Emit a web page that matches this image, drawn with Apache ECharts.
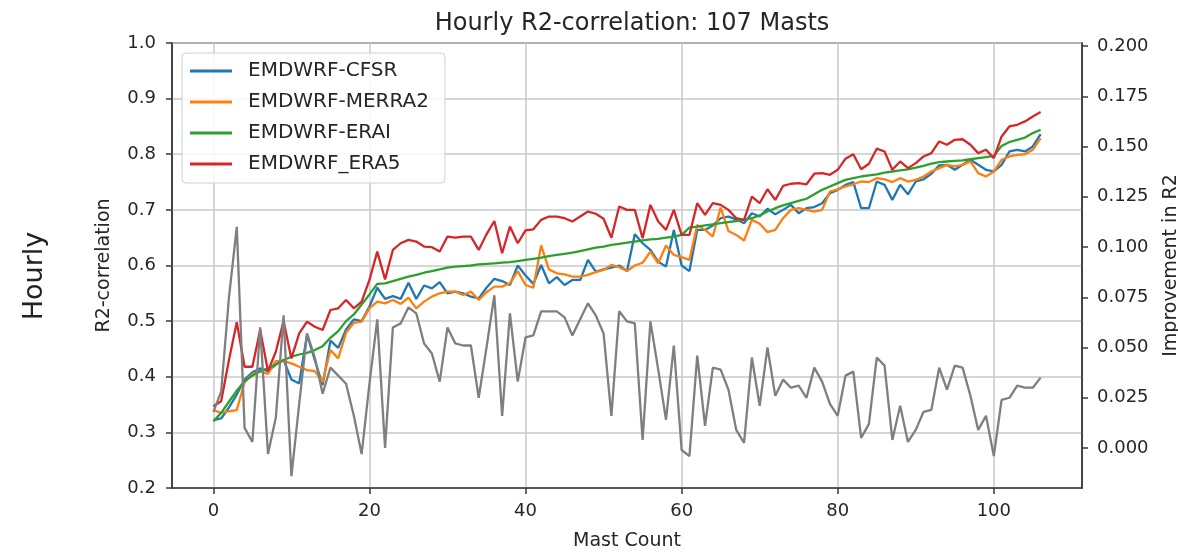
<!DOCTYPE html>
<html><head><meta charset="utf-8">
<script src="https://cdn.jsdelivr.net/npm/echarts@6/dist/echarts.min.js"></script>
<style>html,body{margin:0;padding:0;background:#fff}#c{width:1178px;height:552px}</style>
</head><body><div id="c"></div>
<script>
const chartTitle = 'Hourly R2-correlation: 107 Masts';
const seriesNames = ['EMDWRF-CFSR', 'EMDWRF-MERRA2', 'EMDWRF-ERAI', 'EMDWRF_ERA5'];
const xTicks = [0, 20, 40, 60, 80, 100];
const leftTicks = [0.2, 0.3, 0.4, 0.5, 0.6, 0.7, 0.8, 0.9, 1.0];
const rightTicks = [0, 0.025, 0.05, 0.075, 0.1, 0.125, 0.15, 0.175, 0.2];

const cfsr = [0.322,0.325,0.345,0.368,0.395,0.408,0.415,0.410,0.422,0.430,
0.395,0.388,0.476,0.430,0.385,0.465,0.452,0.485,0.503,0.500,
0.526,0.560,0.540,0.545,0.540,0.569,0.540,0.564,0.559,0.570,
0.550,0.553,0.550,0.544,0.541,0.560,0.576,0.572,0.565,0.600,
0.582,0.567,0.601,0.568,0.579,0.565,0.574,0.574,0.610,0.589,
0.593,0.596,0.600,0.590,0.656,0.640,0.628,0.607,0.598,0.664,
0.600,0.590,0.664,0.664,0.672,0.685,0.688,0.683,0.676,0.694,
0.688,0.702,0.692,0.700,0.709,0.694,0.703,0.705,0.712,0.730,
0.736,0.745,0.750,0.703,0.703,0.751,0.745,0.718,0.745,0.728,
0.751,0.755,0.765,0.780,0.781,0.772,0.781,0.790,0.781,0.772,
0.769,0.781,0.805,0.808,0.805,0.814,0.836];

const merra2 = [0.340,0.335,0.338,0.340,0.390,0.405,0.410,0.405,0.428,0.428,
0.424,0.418,0.412,0.410,0.391,0.448,0.433,0.479,0.497,0.499,
0.523,0.535,0.532,0.538,0.531,0.542,0.523,0.535,0.544,0.550,
0.553,0.553,0.547,0.553,0.538,0.552,0.562,0.562,0.568,0.590,
0.565,0.560,0.636,0.593,0.586,0.584,0.580,0.580,0.583,0.588,
0.592,0.601,0.597,0.590,0.600,0.605,0.625,0.604,0.636,0.619,
0.615,0.610,0.673,0.664,0.652,0.704,0.662,0.655,0.645,0.682,
0.675,0.660,0.664,0.685,0.700,0.703,0.700,0.697,0.700,0.733,
0.737,0.742,0.746,0.751,0.750,0.757,0.755,0.750,0.757,0.751,
0.754,0.760,0.769,0.775,0.781,0.778,0.781,0.787,0.766,0.760,
0.769,0.790,0.796,0.799,0.800,0.808,0.829];

const erai = [0.320,0.335,0.355,0.375,0.392,0.402,0.410,0.415,0.422,0.430,
0.436,0.440,0.443,0.448,0.455,0.470,0.482,0.500,0.512,0.530,
0.548,0.567,0.568,0.572,0.576,0.580,0.583,0.587,0.590,0.593,
0.596,0.598,0.599,0.600,0.602,0.603,0.604,0.605,0.606,0.608,
0.610,0.612,0.614,0.617,0.619,0.621,0.623,0.626,0.629,0.632,
0.634,0.637,0.639,0.641,0.643,0.645,0.647,0.648,0.650,0.652,
0.655,0.668,0.670,0.672,0.674,0.676,0.678,0.680,0.682,0.685,
0.690,0.697,0.703,0.708,0.712,0.716,0.720,0.728,0.736,0.742,
0.748,0.754,0.757,0.760,0.762,0.764,0.767,0.769,0.771,0.773,
0.776,0.779,0.783,0.786,0.787,0.788,0.789,0.791,0.793,0.795,
0.797,0.815,0.822,0.826,0.830,0.838,0.844];

const era5 = [0.347,0.356,0.430,0.498,0.418,0.418,0.484,0.410,0.445,0.500,
0.433,0.478,0.499,0.490,0.484,0.520,0.523,0.538,0.523,0.535,
0.574,0.625,0.575,0.628,0.640,0.646,0.643,0.634,0.633,0.625,
0.652,0.650,0.652,0.652,0.628,0.656,0.680,0.622,0.670,0.640,
0.663,0.665,0.682,0.688,0.688,0.685,0.679,0.688,0.697,0.693,
0.684,0.650,0.706,0.700,0.700,0.649,0.709,0.679,0.664,0.700,
0.655,0.655,0.712,0.691,0.712,0.709,0.700,0.685,0.682,0.724,
0.712,0.737,0.718,0.743,0.747,0.748,0.746,0.765,0.766,0.763,
0.772,0.792,0.800,0.773,0.783,0.810,0.805,0.772,0.787,0.775,
0.784,0.796,0.802,0.823,0.817,0.826,0.827,0.817,0.802,0.808,
0.793,0.832,0.850,0.853,0.859,0.868,0.876];

const improvement = [0.018,0.028,0.075,0.110,0.010,0.003,0.060,-0.003,0.015,0.066,
-0.014,0.022,0.057,0.045,0.027,0.040,0.036,0.032,0.016,-0.003,
0.032,0.064,0.000,0.060,0.062,0.070,0.067,0.052,0.047,0.033,
0.060,0.052,0.051,0.051,0.025,0.050,0.076,0.016,0.067,0.033,
0.055,0.056,0.068,0.068,0.068,0.065,0.056,0.064,0.072,0.066,
0.057,0.016,0.068,0.063,0.062,0.004,0.063,0.039,0.014,0.051,
-0.001,-0.004,0.046,0.011,0.040,0.039,0.029,0.009,0.0025,0.045,
0.021,0.050,0.026,0.034,0.030,0.031,0.025,0.040,0.033,0.022,
0.016,0.036,0.038,0.005,0.012,0.045,0.041,0.004,0.021,0.003,
0.009,0.018,0.019,0.040,0.029,0.041,0.040,0.026,0.009,0.016,
-0.004,0.024,0.025,0.031,0.030,0.030,0.035];

const colors = ['#1f77b4', '#ff7f0e', '#2ca02c', '#d62728', '#7f7f7f'];
const FONT = 'DejaVu Sans';
const TXT = '#262626';
const AXC = '#3a3a3a';

function pairs(arr) { return arr.map((v, i) => [i, v]); }

const chart = echarts.init(document.getElementById('c'), null, {renderer: 'canvas'});

const lineSeries = [cfsr, merra2, erai, era5].map((arr, k) => ({
  name: seriesNames[k], type: 'line', data: pairs(arr), yAxisIndex: 0,
  showSymbol: false, symbol: 'none', smooth: false,
  lineStyle: {color: colors[k], width: 2.3}, itemStyle: {color: colors[k]},
  z: 3 + k, animation: false
}));
lineSeries.push({
  name: 'Improvement', type: 'line', data: pairs(improvement), yAxisIndex: 1,
  showSymbol: false, symbol: 'none',
  lineStyle: {color: colors[4], width: 2.3}, itemStyle: {color: colors[4]},
  z: 8, animation: false
});

chart.setOption({
  animation: false,
  backgroundColor: '#ffffff',
  title: {
    text: chartTitle, left: 627, top: 7, textAlign: 'center',
    textStyle: {fontFamily: FONT, fontSize: 24, fontWeight: 'normal', color: TXT}
  },
  legend: {
    data: seriesNames, orient: 'vertical', left: 182, top: 53,
    icon: 'rect', itemWidth: 42, itemHeight: 3, itemGap: 9,
    padding: [7, 16, 8, 8],
    backgroundColor: 'rgba(255,255,255,0.85)', borderColor: '#d0d0d0', borderWidth: 1, borderRadius: 4,
    textStyle: {fontFamily: FONT, fontSize: 20, color: TXT, lineHeight: 22, padding: [0, 0, 0, 11]},
    z: 20
  },
  grid: {left: 172, right: 96, top: 43, bottom: 64, outerBoundsMode: 'none', containLabel: false,
    show: true, borderColor: AXC, borderWidth: 1.5, backgroundColor: 'transparent'},
  graphic: [{
    type: 'text', x: 35, y: 276, rotation: Math.PI / 2,
    style: {text: 'Hourly', fontFamily: FONT, fontSize: 27, fill: '#222', textAlign: 'center', textVerticalAlign: 'middle'}
  }],
  xAxis: {
    type: 'value', min: -5.3, max: 111.3,
    name: 'Mast Count', nameLocation: 'middle', nameGap: 44,
    nameTextStyle: {fontFamily: FONT, fontSize: 19, color: TXT},
    axisLine: {show: true, onZero: false, lineStyle: {color: AXC, width: 1.5}},
    axisTick: {show: true, length: 6, customValues: xTicks, lineStyle: {color: AXC, width: 1.5}},
    axisLabel: {customValues: xTicks, fontFamily: FONT, fontSize: 18, color: TXT, margin: 14},
    splitLine: {show: true, lineStyle: {color: '#c8c8c8', width: 1.5}}
  },
  yAxis: [{
    type: 'value', min: 0.2, max: 1.0, interval: 0.1, position: 'left',
    name: 'R2-correlation', nameLocation: 'middle', nameGap: 58, nameRotate: 90,
    nameTextStyle: {fontFamily: FONT, fontSize: 19, color: TXT},
    axisLine: {show: true, onZero: false, lineStyle: {color: AXC, width: 1.5}},
    axisTick: {show: true, length: 6, lineStyle: {color: AXC, width: 1.5}},
    axisLabel: {fontFamily: FONT, fontSize: 18, color: TXT, margin: 16, formatter: v => v.toFixed(1)},
    splitLine: {show: true, lineStyle: {color: '#c8c8c8', width: 1.5}}
  }, {
    type: 'value', min: -0.0199, max: 0.2015, position: 'right',
    name: 'Improvement in R2', nameLocation: 'middle', nameGap: 80, nameRotate: 90,
    nameTextStyle: {fontFamily: FONT, fontSize: 19, color: TXT},
    axisLine: {show: true, onZero: false, lineStyle: {color: AXC, width: 1.5}},
    axisTick: {show: true, length: 6, customValues: rightTicks, lineStyle: {color: AXC, width: 1.5}},
    axisLabel: {customValues: rightTicks, fontFamily: FONT, fontSize: 18, color: TXT, margin: 15, formatter: v => v.toFixed(3)},
    splitLine: {show: false}
  }],
  series: lineSeries
});
</script></body></html>
